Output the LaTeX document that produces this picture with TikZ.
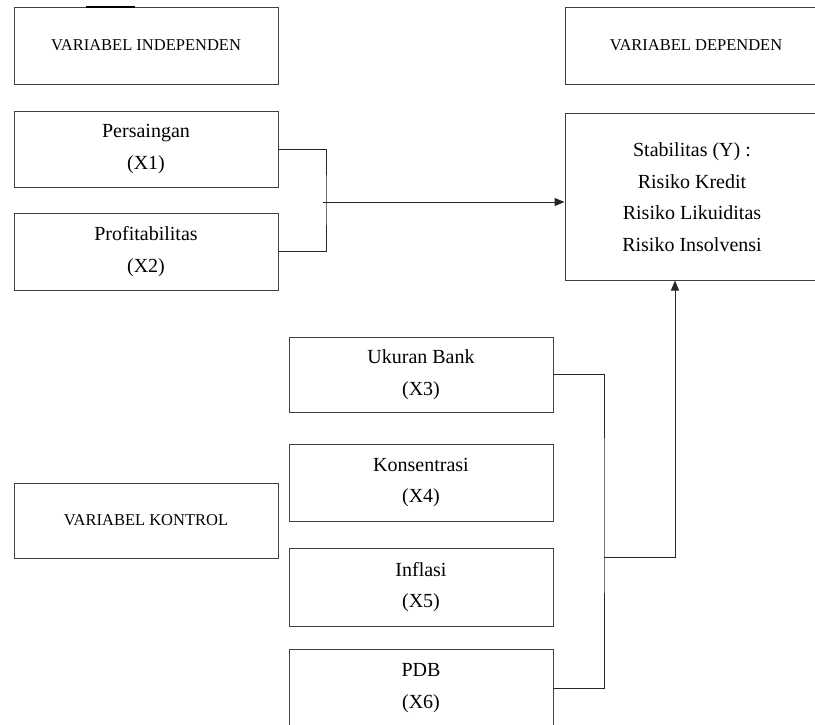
\documentclass[tikz,border=0pt]{standalone}
\usepackage{fontspec}
\setmainfont{Liberation Serif}
\usepackage{tikz}
\usetikzlibrary{arrows.meta, positioning}
\tikzset{varbox/.style={draw=black!75, line width=1pt, minimum width=264pt, align=center, inner sep=0pt},
    headtxt/.style={font=\fontsize{16.5}{20}\selectfont},
    labtxt/.style={font=\fontsize{20}{31.5}\selectfont},
    link/.style={draw=black!85, line width=1pt},
    arr/.style={link, -{Triangle[length=10pt,width=8pt]}}}

\begin{document}
\begin{tikzpicture}[x=1pt,y=-1pt]
                 \useasboundingbox (0,0) rectangle (815,724);
                 \clip (0,0) rectangle (815,724);
                 \node[varbox, headtxt, minimum height=77pt] (indep) at (146,45.5) {VARIABEL INDEPENDEN};
                 \draw[line width=2pt] (86,7) -- (135,7);
                 \node[varbox, headtxt, minimum width=262pt, minimum height=77pt] (dep) at (696,45.5) {VARIABEL DEPENDEN};
                 \node[varbox, labtxt, minimum height=76pt] (pers) at (146,149) {Persaingan\\(X1)};
                 \node[varbox, labtxt, minimum height=77pt] (prof) at (146,251.5) {Profitabilitas\\(X2)};
                 \node[varbox, labtxt, minimum width=254pt, minimum height=167pt] (stab) at (692,197) {Stabilitas (Y) :\\Risiko Kredit\\Risiko Likuiditas\\Risiko Insolvensi};
                 \node[varbox, labtxt, minimum height=75pt] (ukur) at (421,374.5) {Ukuran Bank\\(X3)};
                 \node[varbox, labtxt, minimum height=77pt] (kons) at (421,482.5) {Konsentrasi\\(X4)};
                 \node[varbox, labtxt, minimum height=78pt] (infl) at (421,587) {Inflasi\\(X5)};
                 \node[varbox, labtxt, minimum height=78pt] (pdb) at (421,688) {PDB\\(X6)};
                 \node[varbox, headtxt, minimum height=75pt] (kontrol) at (146,520.5) {VARIABEL KONTROL};
                 % bracket independen
                 \coordinate (ib) at (326,200);
                 \coordinate (im) at (323,202);
                 \draw[link] (pers.east) -| (ib) |- (prof.east);
                 \draw[arr] (im) -- (im -| stab.west);
                 % bracket kontrol
                 \coordinate (kb) at (604,500);
                 \coordinate (km) at (604,557);
                 \coordinate (ytip) at (675,280.5);
                 \draw[link] (ukur.east) -| (kb) |- (pdb.east);
                 \draw[arr] (km) -| (ytip);
             \end{tikzpicture}
\end{document}
